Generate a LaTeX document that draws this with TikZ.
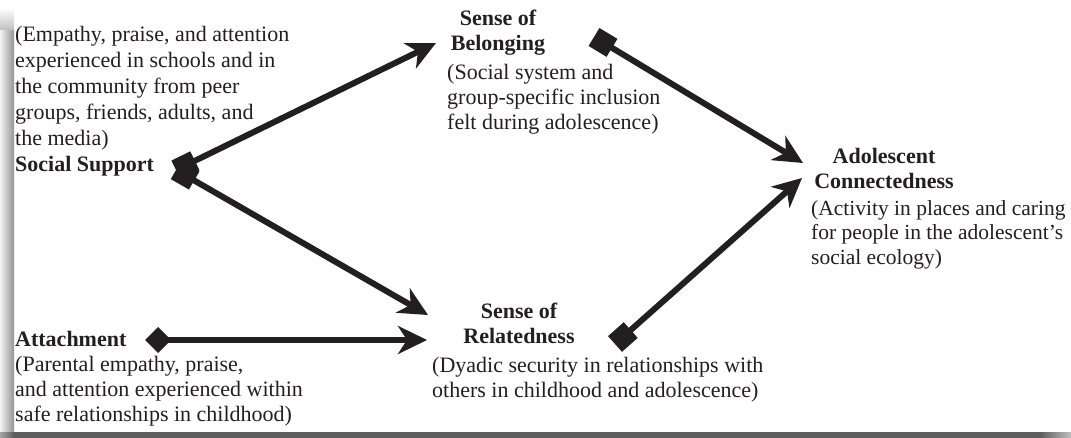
\documentclass[tikz,border=0pt]{standalone}
\usepackage{fontspec}
\setmainfont{Liberation Serif}
\usetikzlibrary{arrows.meta,positioning}
\definecolor{ink}{HTML}{231F20}
\definecolor{edge}{HTML}{5E5E5E}
\tikzset{
  >={Stealth[length=29pt,width=28pt,inset=9pt]},
  ttl/.style={font=\fontsize{22}{25}\selectfont\bfseries, align=center, inner sep=0pt, text=ink, anchor=north},
  dsc/.style={font=\fontsize{22}{25}\selectfont, align=left, inner sep=0pt, text=ink, anchor=north west},
  link/.style={line width=6pt, draw=ink, ->},
  sqlink/.style={link, {Square[length=21pt,width=21pt]}->},
  dmlink/.style={link, {Diamond[length=26pt,width=26pt]}->},
}

\begin{document}
\begin{tikzpicture}[x=1pt,y=-1pt]
  \fill[white] (0,0) rectangle (1071,438);
  \useasboundingbox (0,0) rectangle (1071,438);
  \shade[left color=black!5, right color=black!42] (0,30) rectangle (14,432);
  \shade[top color=white, bottom color=black!25] (0,8) rectangle (14,30);
  \fill[edge] (14,432) rectangle (1040,438);
  \shade[left color=edge!55, right color=edge] (0,432) rectangle (14,438);
  \shade[left color=edge, right color=edge!40] (1040,432) rectangle (1071,438);

  \node[dsc, font=\fontsize{22}{26}\selectfont] (social) at (15,26) {(Empathy, praise, and attention\\experienced in schools and in\\the community from peer\\groups, friends, adults, and\\the media)\\\textbf{Social Support}};
  \node[dsc] (attach) at (15,331) {\textbf{Attachment}\\(Parental empathy, praise,\\and attention experienced within\\safe relationships in childhood)};
  \node[ttl] (belong) at (498,10) {Sense of\\Belonging};
  \node[dsc] (belongd) at (447,64) {(Social system and\\group-specific inclusion\\felt during adolescence)};
  \node[ttl] (relate) at (519,303) {Sense of\\Relatedness};
  \node[dsc] (related) at (432,357) {(Dyadic security in relationships with\\others in childhood and adolescence)};
  \node[ttl] (adol) at (884,148) {Adolescent\\Connectedness};
  \node[dsc, font=\fontsize{21.5}{24.5}\selectfont] (adold) at (811,200) {(Activity in places and caring\\for people in the adolescent’s\\social ecology)};

  \coordinate (ssq) at (176,170);
  \coordinate (attdm) at (145,340);
  \coordinate (belsq) at (594,37);
  \coordinate (relsq) at (615,344);
  \coordinate (belin) at (436,43);
  \coordinate (relin) at (428,315);
  \coordinate (relin2) at (427,340);
  \coordinate (adoin) at (803,163);
  \coordinate (adoin2) at (802,178);

  \draw[sqlink] (ssq) -- (belin);
  \draw[sqlink] (ssq) -- (relin);
  \draw[dmlink] (attdm) -- (relin2);
  \draw[sqlink] (belsq) -- (adoin);
  \draw[sqlink] (relsq) -- (adoin2);
\end{tikzpicture}
\end{document}
